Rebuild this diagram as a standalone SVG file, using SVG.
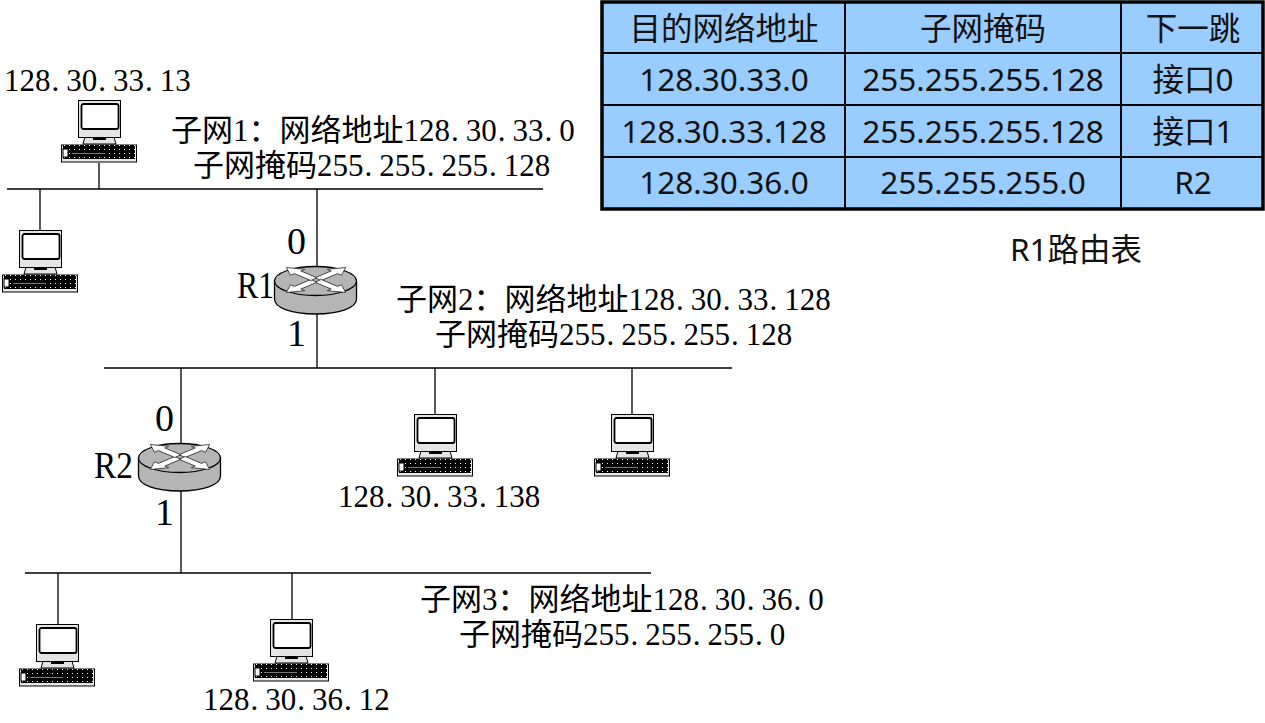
<svg xmlns="http://www.w3.org/2000/svg" width="1265" height="723" viewBox="0 0 1265 723">
<style>
.s{font-family:"Liberation Serif","Noto Sans CJK SC",serif;font-size:31px;fill:#000}
.l{font-family:"Liberation Serif",serif;font-size:38px;fill:#000}
.t{font-family:"Noto Sans","Noto Sans CJK SC",sans-serif;font-size:31.500px;fill:#111;text-anchor:middle}
.w{stroke:#000;stroke-width:1.300;fill:none}
.b{stroke:#000;stroke-width:2;fill:none}
.a{fill:#fff;stroke:#222;stroke-width:.8;vector-effect:non-scaling-stroke}
</style>
<defs>
<pattern id="k" width="5" height="4" patternUnits="userSpaceOnUse"><rect width="5" height="4" fill="#000"/><rect x="1" y="1" width="1" height="1" fill="#fff"/></pattern>
<path id="ar" class="a" d="M3 -4.500H26V-10L42 0 26 10V4.500H3Z"/>
<symbol id="pc" overflow="visible">
<path d="M7 37H36L38 44H5Z" fill="#e4e4e4" stroke="#000"/>
<rect x="15" y="38" width="13" height="2" fill="#000"/>
<rect x=".5" y=".5" width="42" height="37" fill="#e4e4e4" stroke="#000"/>
<rect x="3.500" y="4" width="37" height="25" rx="2" fill="#fff" stroke="#000" stroke-width="1.800"/>
<rect x="-16.500" y="45" width="75" height="17" fill="#e8e8e8" stroke="#000"/>
<rect x="-15" y="45" width="72" height="14" fill="url(#k)"/>
<rect x="-15" y="49" width="5" height="8" fill="#fff" stroke="#000"/>
<rect x="-7" y="51" width="36" height="6" fill="#000"/>
<rect x="-6" y="53" width="33" height="1" fill="#777"/>
</symbol>
<symbol id="rt" overflow="visible">
<path d="M.5 15V33C.5 42 18 48 41.500 48S82.500 42 82.500 33V15Z" fill="#b5b5b5" stroke="#000" stroke-width="1.300"/>
<ellipse cx="41.500" cy="15" rx="41" ry="14.500" fill="#b5b5b5" stroke="#000" stroke-width="1.300"/>
<g transform="translate(42 14) scale(1 .42)">
<use href="#ar" transform="rotate(-45)"/><use href="#ar" transform="rotate(45)"/><use href="#ar" transform="rotate(135)"/><use href="#ar" transform="rotate(225)"/>
</g>
</symbol>
</defs>
<g id="connectors">
<path class="w" d="M7 189H543M99 163V189M40 189V230M317 189V270M317 312V368M104 368H732M181 368V445M435 368V414M632 368V414M181 490V573M25 573H651M58 573V624M292 573V619"/>
</g>
<g id="pc1"><use href="#pc" x="78" y="100"/><text class="s" x="4" y="91" dx="0 0 0 1 7 0 1 7 0 1 7 0">128.30.33.13</text></g>
<g id="pc2"><use href="#pc" x="19" y="230"/></g>
<g id="pc3"><use href="#pc" x="414" y="414"/><text class="s" x="338" y="507" dx="0 0 0 1 7 0 1 7 0 1 7 0 0">128.30.33.138</text></g>
<g id="pc4"><use href="#pc" x="611" y="414"/></g>
<g id="pc5"><use href="#pc" x="36" y="624"/></g>
<g id="pc6"><use href="#pc" x="270" y="619"/><text class="s" x="203" y="710" dx="0 0 0 1 7 0 1 7 0 1 7 0">128.30.36.12</text></g>
<g id="r1"><use href="#rt" x="274" y="266"/>
<text class="l" x="287" y="254">0</text><text class="l" x="237" y="298" textLength="37" lengthAdjust="spacingAndGlyphs">R1</text><text class="l" x="287" y="346">1</text></g>
<g id="r2"><use href="#rt" x="138" y="443"/>
<text class="l" x="155" y="431">0</text><text class="l" x="94" y="478" textLength="39" lengthAdjust="spacingAndGlyphs">R2</text><text class="l" x="155" y="525">1</text></g>
<g id="subnet1"><text class="s" x="171" y="141" dx="0 0 0 0 0 0 0 0 0 0 0 1 7 0 1 7 0 1 7">子网1：网络地址128.30.33.0</text>
<text class="s" x="193" y="176" dx="0 0 0 0 0 0 0 1 7 0 0 1 7 0 0 1 7 0 0">子网掩码255.255.255.128</text></g>
<g id="subnet2"><text class="s" x="396" y="310" dx="0 0 0 0 0 0 0 0 0 0 0 1 7 0 1 7 0 1 7 0 0">子网2：网络地址128.30.33.128</text>
<text class="s" x="435" y="345" dx="0 0 0 0 0 0 0 1 7 0 0 1 7 0 0 1 7 0 0">子网掩码255.255.255.128</text></g>
<g id="subnet3"><text class="s" x="420" y="610" dx="0 0 0 0 0 0 0 0 0 0 0 1 7 0 1 7 0 1 7">子网3：网络地址128.30.36.0</text>
<text class="s" x="459" y="645" dx="0 0 0 0 0 0 0 1 7 0 0 1 7 0 0 1 7">子网掩码255.255.255.0</text></g>
<g id="route-table">
<rect x="602" y="2" width="661" height="207" fill="#99ccff" stroke="#000" stroke-width="3.500"/>
<path class="b" d="M602 53H1263M602 105H1263M602 157H1263M845 2V209M1121 2V209"/>
<text class="t" x="724" y="40">目的网络地址</text><text class="t" x="983" y="40">子网掩码</text><text class="t" x="1193" y="40">下一跳</text>
<text class="t" x="724" y="91">128.30.33.0</text><text class="t" x="983" y="91">255.255.255.128</text><text class="t" x="1193" y="91">接口0</text>
<text class="t" x="724" y="143">128.30.33.128</text><text class="t" x="983" y="143">255.255.255.128</text><text class="t" x="1193" y="143">接口1</text>
<text class="t" x="724" y="194">128.30.36.0</text><text class="t" x="983" y="194">255.255.255.0</text><text class="t" x="1193" y="194">R2</text>
</g>
<text class="t" x="1076" y="261">R1路由表</text>
</svg>
